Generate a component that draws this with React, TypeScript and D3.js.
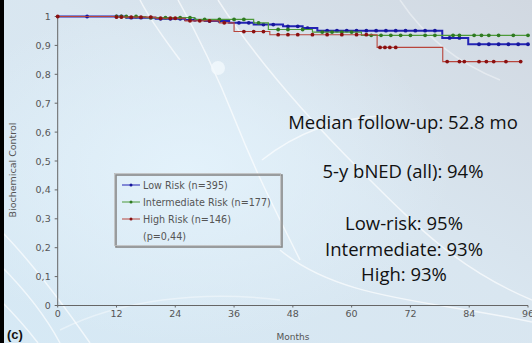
import React from "react";
import * as d3 from "d3";

const width = 532;
const height = 343;

// Kaplan-Meier step points (months, survival) and censor marks
const lowTimes = [0, 14, 20, 26, 30, 35, 40, 46, 50, 53, 78.5, 83.8, 96];
const lowSurv = [1, 0.996, 0.992, 0.988, 0.984, 0.978, 0.972, 0.966, 0.96, 0.951, 0.926, 0.904, 0.904];
const lowCensor = [6, 12, 13, 15, 17, 19, 21, 23, 25, 28, 31, 33, 37, 39, 42, 44, 47, 49, 51, 55, 57, 59, 61, 63, 65, 67, 69, 71, 73, 75, 77, 80, 82, 86, 88, 90, 92, 94, 96];

const midTimes = [0, 18, 28, 40, 43, 52, 62, 96];
const midSurv = [1, 0.996, 0.99, 0.978, 0.955, 0.946, 0.935, 0.935];
const midCensor = [12, 13, 14, 16, 19, 22, 25, 27, 30, 33, 36, 38, 41, 45, 47, 50, 54, 56, 58, 60, 64, 66, 68, 70, 72, 75, 77, 80.7, 82, 85, 86.5, 88, 90, 93, 96];

const highTimes = [0, 12, 20, 26, 33, 36, 43.3, 65.2, 78.6, 94.7];
const highSurv = [1, 0.998, 0.994, 0.985, 0.978, 0.948, 0.937, 0.893, 0.844, 0.844];
const highCensor = [0, 12, 13, 15, 17, 19, 21, 23, 24, 27, 29, 31, 34, 38, 40, 42, 45, 47, 49, 52, 55, 58, 61, 63, 65.8, 66.8, 67.8, 69, 79.5, 82, 83, 86, 87.5, 89, 91.5, 94.5];

const yTicks = [0, 0.1, 0.2, 0.3, 0.4, 0.5, 0.6, 0.7, 0.8, 0.9, 1];
const xTicks = [0, 12, 24, 36, 48, 60, 72, 84, 96];

const legendLabels = ["Low Risk (n=395)", "Intermediate Risk (n=177)", "High Risk (n=146)"];
const pValue = "(p=0,44)";
const notes = ["Median follow-up: 52.8 mo", "5-y bNED (all): 94%", "Low-risk: 95%", "Intermediate: 93%", "High: 93%"];

const groups = [
  { times: lowTimes, surv: lowSurv, censor: lowCensor, line: "#2323b4", dot: "#16169c", w: 2 },
  { times: midTimes, surv: midSurv, censor: midCensor, line: "#4d9a3a", dot: "#2f7a22", w: 1.2 },
  { times: highTimes, surv: highSurv, censor: highCensor, line: "#b8453c", dot: "#8a1010", w: 1.1 },
];

const x = d3.scaleLinear().domain([0, 96]).range([57.7, 528]);
const y = d3.scaleLinear().domain([0, 1]).range([305.5, 16.5]);

const stepAt = (times, surv, t) => {
  let v = surv[0];
  for (let i = 0; i < times.length; i++) if (times[i] <= t) v = surv[i];
  return v;
};

const fmt = (v) => (v === 0 || v === 1 ? String(v) : String(v.toFixed(1)).replace(".", ","));

const tickFont = "DejaVu Sans, sans-serif";

const App = () => {
  const line = d3
    .line<number>()
    .x((d) => d[0])
    .y((d) => d[1])
    .curve(d3.curveStepAfter);

  return (
    <svg width={width} height={height} style={{ position: "absolute", left: 0, top: 0 }}>
      <defs>
        <linearGradient id="bg" x1="1" y1="0" x2="0" y2="1">
          <stop offset="0" stopColor="#d1d8e1" />
          <stop offset="0.45" stopColor="#d9e6f0" />
          <stop offset="1" stopColor="#d6e9f5" />
        </linearGradient>
        <radialGradient id="glow" cx="0.35" cy="0.5" r="0.5">
          <stop offset="0" stopColor="#e4f3fc" stopOpacity="0.9" />
          <stop offset="1" stopColor="#e4f3fc" stopOpacity="0" />
        </radialGradient>
      </defs>
      <rect width={width} height={height} fill="url(#bg)" />
      <rect width={width} height={height} fill="url(#glow)" />
      {/* decorative swooshes */}
      <g fill="none" stroke="#ffffff" strokeOpacity={0.65} strokeWidth={1.5}>
        <path d="M178,0 C195,30 215,70 235,120 S270,200 300,260" />
        <path d="M218,0 C250,50 300,110 360,170 S460,270 532,300" />
        <path d="M140,0 C150,20 165,40 180,60" />
        <path d="M262,160 C300,130 340,118 380,116" />
        <path d="M280,250 C340,300 430,300 532,322" />
        <path d="M0,230 C30,260 60,300 90,343" />
        <path d="M0,265 C25,290 45,315 60,343" />
        <path d="M0,300 C15,315 28,330 38,343" />
        <path d="M60,330 C120,300 200,290 280,300" strokeOpacity={0.4} />
        <path d="M400,0 C420,30 450,60 500,80" strokeOpacity={0.4} />
      </g>
      <circle cx={218} cy={68} r={7} fill="#f2f9fd" opacity={0.8} />
      <rect x={0} y={0} width={4} height={height} fill="#000" />

      {/* axes */}
      <g stroke="#666" strokeWidth={1}>
        <line x1={x(0)} x2={x(0)} y1={y(1)} y2={y(0)} />
        <line x1={x(0)} x2={x(96)} y1={y(0)} y2={y(0)} />
        {yTicks.map((t) => (
          <line key={t} x1={x(0) - 3} x2={x(0)} y1={y(t)} y2={y(t)} />
        ))}
        {xTicks.map((t) => (
          <line key={t} x1={x(t)} x2={x(t)} y1={y(0)} y2={y(0) + 2} />
        ))}
      </g>
      <g fontFamily={tickFont} fontSize={9.5} fill="#555">
        {yTicks.map((t) => (
          <text key={t} x={x(0) - 7} y={y(t) + 3.5} textAnchor="end">
            {fmt(t)}
          </text>
        ))}
        {xTicks.map((t) => (
          <text key={t} x={x(t)} y={y(0) + 11} textAnchor="middle">
            {t}
          </text>
        ))}
        <text x={293} y={340} textAnchor="middle" fontSize={9}>
          Months
        </text>
        <text transform="translate(16,170) rotate(-90)" textAnchor="middle" fontSize={9.5}>
          Biochemical Control
        </text>
      </g>
      <text x={7} y={339} fontFamily="Liberation Sans, Arial, sans-serif" fontWeight="bold" fontSize={13} fill="#111">
        (c)
      </text>

      {/* curves */}
      {groups.map((g, i) => (
        <g key={i}>
          <path
            d={line(g.times.map((t, j) => [x(t), y(g.surv[j])]))}
            fill="none"
            stroke={g.line}
            strokeWidth={g.w}
          />
          {g.censor.map((t, j) => (
            <circle key={j} cx={x(t)} cy={y(stepAt(g.times, g.surv, t))} r={1.9} fill={g.dot} />
          ))}
        </g>
      ))}

      {/* legend */}
      <rect x={116} y={175} width={166} height={72} fill="none" stroke="#888" strokeWidth={1.6} />
      <rect x={114.5} y={173.5} width={166} height={72} fill="none" stroke="#bbb" strokeWidth={0.8} />
      <g fontFamily={tickFont} fontSize={9.6} fill="#555">
        {legendLabels.map((l, i) => (
          <g key={l}>
            <line x1={122} x2={140} y1={185 + i * 17} y2={185 + i * 17} stroke={groups[i].line} strokeWidth={1} />
            <circle cx={131} cy={185 + i * 17} r={1.5} fill={groups[i].dot} />
            <text x={143} y={188.5 + i * 17}>
              {l}
            </text>
          </g>
        ))}
        <text x={143} y={240}>
          {pValue}
        </text>
      </g>

      {/* annotations */}
      <g fontFamily="Open Sans, sans-serif" fontSize={18.5} fill="#111" textAnchor="middle">
        <text x={403} y={129}>{notes[0]}</text>
        <text x={403} y={178}>{notes[1]}</text>
        <text x={404} y={230}>{notes[2]}</text>
        <text x={404} y={256}>{notes[3]}</text>
        <text x={404} y={281}>{notes[4]}</text>
      </g>
    </svg>
  );
};

export default App;
